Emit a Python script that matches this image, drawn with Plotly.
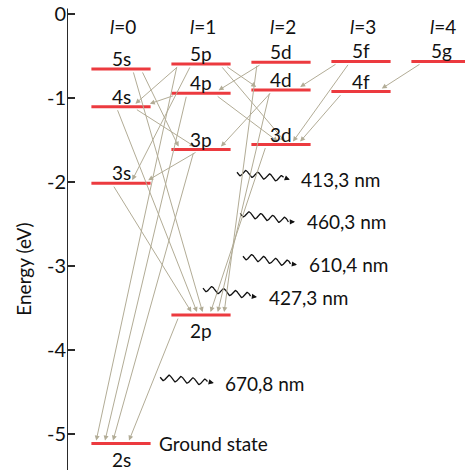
import numpy as np
import plotly.graph_objects as go

# ---------------- data ----------------
level_names = ["2s", "3s", "4s", "5s", "2p", "3p", "4p", "5p", "3d", "4d", "5d", "4f", "5f", "5g"]
level_l = [0, 0, 0, 0, 1, 1, 1, 1, 2, 2, 2, 3, 3, 4]
level_energy = [-5.12, -2.02, -1.11, -0.66, -3.59, -1.62, -0.95, -0.60, -1.56, -0.91, -0.58, -0.93, -0.57, -0.57]

l_labels = ["0", "1", "2", "3", "4"]

# transitions: (upper, lower, start offset, end offset) offsets along the level in l-units
transitions = [
    ("5p", "2s", -0.30, -0.31),
    ("4p", "2s", -0.18, -0.20),
    ("3p", "2s", -0.09, -0.10),
    ("2p", "2s", -0.28, 0.10),
    ("3s", "2p", -0.10, -0.12),
    ("4s", "2p", -0.05, -0.05),
    ("5s", "2p", 0.15, 0.02),
    ("3d", "2p", -0.19, 0.12),
    ("4d", "2p", -0.14, 0.21),
    ("5d", "2p", -0.30, 0.29),
    ("3p", "3s", -0.05, 0.34),
    ("5p", "3s", -0.13, 0.14),
    ("5p", "4s", -0.28, 0.18),
    ("4p", "4s", -0.33, 0.36),
    ("5s", "3p", 0.26, -0.28),
    ("4s", "3p", 0.18, -0.08),
    ("4d", "3p", -0.12, 0.25),
    ("5d", "4p", -0.25, 0.22),
    ("4p", "3d", 0.19, -0.04),
    ("5p", "3d", 0.25, 0.05),
    ("5f", "3d", -0.15, 0.15),
    ("4f", "3d", -0.24, 0.24),
    ("5f", "4d", -0.30, 0.24),
    ("5p", "4d", 0.31, -0.31),
    ("5g", "4f", -0.25, 0.26),
]

# emitted photons: label, wave start (l, eV), arrow tip (l, eV)
photon_labels = ["413,3 nm", "460,3 nm", "610,4 nm", "427,3 nm", "670,8 nm"]
photon_x0 = [1.45, 1.49, 1.525, 1.025, 0.49]
photon_y0 = [-1.89, -2.38, -2.89, -3.27, -4.33]
photon_x1 = [2.11, 2.175, 2.20, 1.70, 1.16]
photon_y1 = [-1.98, -2.48, -2.99, -3.375, -4.40]

y_ticks = [0, -1, -2, -3, -4, -5]
y_ticktext = ["0", "-1", "-2", "-3", "-4", "-5"]

# ---------------- style ----------------
FONT = "Lato"
RED = "#ec3a3f"
GREY = "#b2ac96"
HALF = 0.37
PX_X = 80.0   # px per l-unit
PX_Y = 84.0   # px per eV

E = dict(zip(level_names, level_energy))
L = dict(zip(level_names, level_l))

fig = go.Figure()

# level lines
for n in level_names:
    fig.add_trace(go.Scatter(
        x=[L[n] - HALF, L[n] + HALF], y=[E[n], E[n]], mode="lines",
        line=dict(color=RED, width=3), hoverinfo="skip", showlegend=False))

annotations = []
# transitions
for up, lo, so, eo in transitions:
    annotations.append(dict(
        x=L[lo] + eo, y=E[lo] + 3 / PX_Y, ax=L[up] + so, ay=E[up] - 2 / PX_Y,
        xref="x", yref="y", axref="x", ayref="y", showarrow=True,
        arrowhead=2, arrowsize=1.0, arrowwidth=1, arrowcolor=GREY, standoff=0, text=""))

# level labels
for n in level_names:
    if n in ("2s", "2p"):
        annotations.append(dict(x=L[n], y=E[n], xref="x", yref="y", text=n, showarrow=False,
                                yanchor="top", yshift=-2, font=dict(family=FONT, size=19, color="#111")))
    else:
        annotations.append(dict(x=L[n], y=E[n], xref="x", yref="y", text=n, showarrow=False,
                                yanchor="bottom", yshift=-3, font=dict(family=FONT, size=19, color="#111")))

annotations.append(dict(x=L["2s"] + HALF + 0.08, y=E["2s"], xref="x", yref="y", text="Ground state",
                        showarrow=False, xanchor="left", yanchor="middle",
                        font=dict(family=FONT, size=19, color="#111")))

# column headers
for i, t in enumerate(l_labels):
    annotations.append(dict(x=i + 0.03, y=-0.155, xref="x", yref="y", text="<i>l</i>=" + t,
                            showarrow=False, font=dict(family=FONT, size=19, color="#111")))

# photons (wavy arrows)
for lab, x0, y0, x1, y1 in zip(photon_labels, photon_x0, photon_y0, photon_x1, photon_y1):
    p0 = np.array([x0 * PX_X, -y0 * PX_Y])
    p1 = np.array([x1 * PX_X, -y1 * PX_Y])
    pw = p0 + (p1 - p0) * 0.88
    t = np.linspace(0, 1, 120)
    base = p0[None, :] + (pw - p0)[None, :] * t[:, None]
    length = np.linalg.norm(pw - p0)
    wave = 3.0 * np.sin(2 * np.pi * t * length / 12.0)
    px = base[:, 0]
    py = base[:, 1] + wave
    fig.add_trace(go.Scatter(x=px / PX_X, y=-py / PX_Y, mode="lines",
                             line=dict(color="#111", width=1.3), hoverinfo="skip", showlegend=False))
    annotations.append(dict(x=x1, y=y1, ax=px[-1] / PX_X, ay=-py[-1] / PX_Y,
                            xref="x", yref="y", axref="x", ayref="y", showarrow=True,
                            arrowhead=2, arrowsize=0.8, arrowwidth=1.3, arrowcolor="#111",
                            standoff=0, text=""))
    annotations.append(dict(x=x1 + 0.12, y=y1, xref="x", yref="y", text=lab, showarrow=False,
                            xanchor="left", yanchor="middle",
                            font=dict(family=FONT, size=19, color="#111")))

X0 = (67 - 121) / PX_X
X1 = (465 - 121) / PX_X
Y1 = 13.5 / PX_Y
Y0 = -(470 - 13.5) / PX_Y

# axis title
annotations.append(dict(x=X0, y=-3.05, xref="x", yref="y", xshift=-43, text="Energy (eV)", textangle=-90,
                        showarrow=False, font=dict(family=FONT, size=19, color="#111"),
                        xanchor="center", yanchor="middle"))

# axis line as shape
shapes = [dict(type="line", xref="x", yref="y", x0=X0, x1=X0, y0=0.06, y1=Y0,
               line=dict(color="#2a2a2a", width=2))]

fig.update_layout(
    width=465, height=470,
    margin=dict(l=67, r=0, t=0, b=0),
    paper_bgcolor="white", plot_bgcolor="white",
    xaxis=dict(range=[X0, X1], visible=False, fixedrange=True),
    yaxis=dict(range=[Y0, Y1], showgrid=False, zeroline=False, showline=False,
               tickmode="array", tickvals=y_ticks, ticktext=y_ticktext,
               ticks="inside", ticklen=8, tickwidth=2, tickcolor="#2a2a2a",
               tickfont=dict(family=FONT, size=20, color="#111")),
    annotations=annotations, shapes=shapes, showlegend=False,
)

fig.write_html("out.html")
